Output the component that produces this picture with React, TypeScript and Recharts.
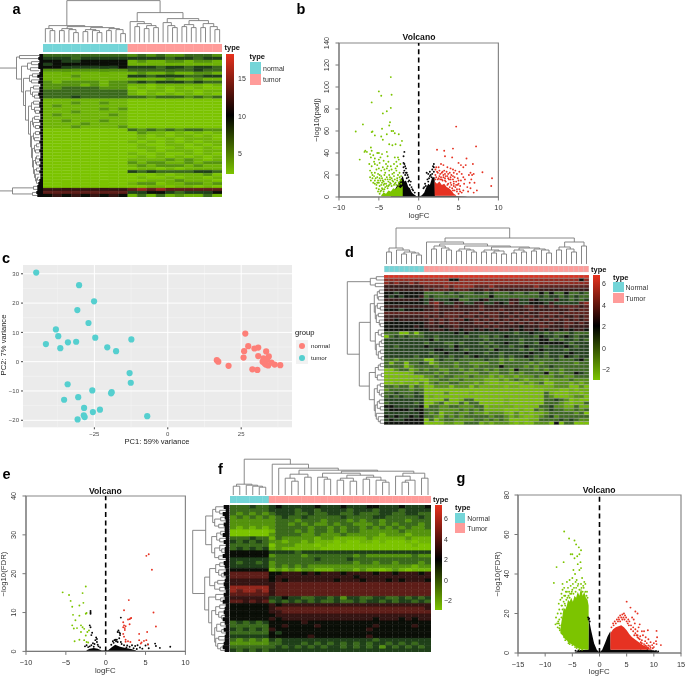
import React from 'react';
import {
  Area, Bar, BarChart, CartesianGrid, Cell, ComposedChart, Line, LineChart, ReferenceArea, ReferenceLine,
  Scatter, ScatterChart, XAxis, YAxis,
} from 'recharts';

const FONT = '"Liberation Sans", Arial, sans-serif';
const GREEN = '#7cc400';
const RED = '#e63222';
const BLACK = '#060606';
const TEAL = '#74d5d8';
const PINK = '#ff9c9a';

// heat levels, 0 = bright green, 5 = black, 9 = red; a/b are the annotation colours
const LEVELS: Record<string, string> = {
  '0': '#7cc400', '1': '#6fb406', '2': '#55930f', '3': '#3b6a1c', '4': '#20401a', '5': '#0b0f08',
  '6': '#351513', '7': '#5e1e19', '8': '#94281d', '9': '#df3120', a: TEAL, b: PINK,
};

// ---- panel a ----
const heatA = [
  '333333333 2323223332', '444344444 4444344344', '554455555 1211221221', '455555555 1111111111',
  '554444445 4443443443', '222222222 3333333433', '111111111 1211211221', '111211111 4434443344',
  '111111111 1111211211', '212222122 3434443433', '222212122 1101111101', '223333222 0101010100',
  '333333333 1011011011', '333333333 1010101010', '333433333 3323332323', '111111111 0000000000',
  '111211211 0000000000', '121111111 0000000000', '111111212 0000000000', '111211111 0000000000',
  '121111121 0000000000', '111111111 0000000000', '112111211 0000000000', '111121111 0000000000',
  '111211112 0000000000', '000000000 3232323322', '000000000 0211010101', '000000000 0101011010',
  '000000000 0100101110', '000000000 1010101011', '000000000 0100110101', '000000000 0110010010',
  '000000000 0010111011', '000000000 1001001010', '000000000 0101010101', '000000000 1111212101',
  '000000000 2122112122', '000000000 1212221211', '000000000 0110101111', '000000000 4343333443',
  '000000000 0001011120', '000000000 0100101101', '000000000 0011121110', '000000000 1220112212',
  '000000000 0011011010', '666666666 7878777777', '777777777 4455434445', '565656565 1313121131',
];
const leafA = [4, 5, 4, 5, 5, 3, 4, 6, 4, 5, 3, 4, 4, 5, 4, 3, 4, 4, 3, 4, 3, 3, 4, 3, 4, 3, 4, 3, 3, 4, 3, 3, 4, 3, 3, 4, 3, 4, 3, 4, 3, 3, 4, 5, 6, 6, 7, 6];
const treeATop = [42,
  [17, [14, 0, [12, 0, 0]], [16, [14, [12, 0, 0], [13, 0, [10, 0, 0]]], [15, [13, [11, 0, 0], [12, 0, [10, 0, 0]]], [14, [12, 0, 0], [13, 0, [9, 0, 0]]]]]],
  [30, [21, 0, [19, [16, 0, 0], [17, [14, 0, 0], [15, 0, 0]]]], [24, [20, 0, [17, 0, [15, 0, 0]]], [22, [18, [16, 0, 0], [15, 0, 0]], [19, [15, 0, 0], [16, 0, [13, 0, 0]]]]]],
];
const treeALeft = [42,
  [23, [20, 0, 0],
    [18, [12, [8, 0, 0], [9, 0, 0]],
      [16, [10, [7, 0, 0], [8, 0, 0]],
        [14, [9, [6, 0, 0], [7, 0, [5, 0, 0]]],
          [11, [8, [6, 0, 0], [5, 0, [4, 0, 0]]],
            [9, [7, [5, 0, 0], [6, 0, [4, 0, 0]]],
              [8, [6, [4, 0, 0], [5, 0, 0]],
                [7, [5, [3, 0, 0], [4, 0, 0]],
                  [6, [4, [3, 0, 0], [3, 0, 0]], [5, [3, 0, 0], [4, 0, [3, [2, 0, 0], 0]]]]]]]]]]]],
  [27, [6, 0, 0], [7, 0, 0]],
];

// ---- panel d ----
const heatD = [
  '99999999 999999999999999999999999999999999', '88888888 888885588888888888888888888888858',
  '87877878 888888888888888888888888888888888', '66666666 777787888877787777777787777777777',
  '66666666 767776777666767666666666666666666', '55455555 333343433344343334334335353353343',
  '54545556 343333343333353333333334344343433', '66666665 464445533445644446644654446443434',
  '55555555 478644664466446547644555464444478', '66666666 667666766667666666667767676777767',
  '55545555 667666666667666766666766666667677', '77777777 777677776776777676767667777677777',
  '66666666 767677767767677667676767676766767', '66566666 676767675676767676767676767676767',
  '55555555 676767766677676767676767676677676', '55555565 666566766666767666656667766676666',
  '55555555 566656656656565665656656566565665', '33300303 444444545444444444344544343334333',
  '03434333 443444443443343454444435443454344', '44444444 453444444444344444434445534344343',
  '44444444 344433434443434454434435555543444', '44344444 544443544444343443445444344454344',
  '44444444 445544543444435444434345444434444', '44444444 434454445444344344444544344445444',
  '44444434 443443443454444343445434344354344', '33233333 003433433333433232333433334333453',
  '31330334 302333233222233233333232333333233', '33330233 332333233323333533332323343333333',
  '00233123 233223323233232332533323233233333', '00000133 332323332223322332323333523233543',
  '00000000 223233222322212122122232223322333', '00000010 022332232222111212321222122223222',
  '00101102 023223322212100110012123002221212', '33233132 002220222021111101100011112220020',
  '23333233 000000000000000000000000111001011', '33433343 000020000100000000000000310001101',
  '34343344 010000000000000000000000320001220', '44444444 000030013300000010000000334320100',
  '34444434 002301131330000010000000333210113', '55444445 033223322233011111000003342211311',
  '45555455 333222232323111100010032343322323', '44444445 323022322322122210201011233333230',
  '54544545 332132323333323321210012342333333', '45445555 030233222233232320000113333434322',
  '55555555 000022113331212221010022205033000',
];
const treeDTop = [36,
  [16, [12, 0, 0], [14, 0, [12, [10, 0, 0], [11, 0, [9, 0, 0]]]]],
  [26,
    [22, 0, [20, [18, [15, 0, 0], [16, 0, [14, 0, 0]]],
      [18, [15, [13, 0, 0], [14, 0, [12, 0, 0]]],
        [17, [14, [12, 0, 0], [13, [11, 0, 0], [10, 0, 0]]], [16, [14, [11, 0, 0], [12, 0, 0]], [15, [13, 0, 0], [14, 0, [11, 0, 0]]]]]]]],
    [22, [17, [14, 0, 0], [15, 0, [12, 0, 0]]], [18, 0, 0]]],
];
const treeDLeft = [37,
  [14, [8, 0, 0], [9, 0, 0]],
  [25,
    [14,
      [10, [7, [5, 0, 0], [6, 0, 0]], [9, [7, 0, [4, 0, 0]], [8, [6, 0, 0], [5, 0, [4, 0, 0]]]]],
      [9, [6, 0, [3, 0, 0]], [8, [5, [3, 0, 0], 0], [6, [4, 0, 0], [3, 0, 0]]]]],
    [15,
      [9, [6, [4, 0, 0], 0], [7, [3, 0, 0], 0]],
      [10, [7, [4, 0, 0], [5, 0, [3, 0, 0]]], [9, [7, [5, 0, 0], [4, 0, 0]], [8, 0, [6, 0, [4, 0, 0]]]]]]],
];

// ---- panel f ----
const heatF = [
  '333433 4544444544454445544454445', '333333 4444344344443444344434444', '323232 3444334334433433344334433',
  '232323 2343343333343333443333343', '222222 2333233323332323323332333', '222222 2332323223233222323233323',
  '212121 2333332332323323232323223', '000000 1333232332323322222232222', '000000 2333322322232222212221222',
  '333433 1322222122111112111112111', '434343 2212212111010011010001011', '333333 0222111010000000000000100',
  '343434 1211111100000000000000000', '555555 4444344444444444444444444', '555555 2333323333333232222222322',
  '444444 3333333433334333333333333', '434434 2333333333333233233233323', '444444 2323232222222222222222122',
  '555555 1212122111222121101210111', '777777 5566656566656666566566656',
  '777777 5666666666666566666666666', '666666 5656666666566656665656665', '666666 6777777777777777777777777',
  '888888 6777777777777777777777777', '878878 6777777777777777777777777', '777777 6777777777777777777777777',
  '666666 4454433443424433443343434', '776767 3434343433433434434344343', '555555 6566666666666666666666666',
  '555555 6777777777777777777777776', '555555 6677777777777777777777777', '555555 5666666666666666666666666',
  '555555 6566666666666666566656566', '343434 5555565555555555555555555', '333333 5565555655555555655555655',
  '434343 6555555555555556555555555', '333333 5455555555555555555555555', '444444 5555556555555556555555555',
  '323232 4344444444444444344444444', '222222 3344434343434343443434344', '333333 3434343434434343424343434',
  '434343 4444444444444444444444444',
];
const leafF = [6, 4, 7, 5, 4, 6, 5, 5, 7, 4, 6, 4, 5, 5, 7, 4, 6, 5, 4, 6, 4, 5, 6, 5, 4, 6, 5, 7, 4, 5, 6, 5, 7, 5, 4, 6, 4, 5, 5, 6, 7, 5];
const treeFTop = [36,
  [11, [9, 0, 0], [10, 0, [9, 0, [8, 0, 0]]]],
  [31, 0, [27, 0, [25,
    [21, [17, 0, [14, 0, 0]], [18, 0, 0]],
    [24,
      [22, [18, 0, [16, 0, 0]], [20, [17, [15, 0, 0], [14, 0, 0]], [18, [16, 0, 0], [15, 0, [13, 0, 0]]]]],
      [22, [19, 0, [15, [13, 0, 0], 0]], [17, 0, 0]]]]]],
];
const treeFLeft = [37,
  [24, [17, [14, 0, [10, 0, 0]], [15, [9, 0, 0], [11, 0, 0]]], [18, [13, [9, 0, 0], [10, 0, 0]], [15, [10, 0, [8, 0, 0]], [11, 0, 0]]]],
  [25,
    [20, [14, [10, 0, 0], [11, 0, [8, 0, 0]]], [15, [12, 0, 0], [10, 0, 0]]],
    [21, [14, 0, [9, 0, 0]], [18, [14, [10, 0, 0], [11, 0, [8, 0, 0]]], [15, [13, [9, 0, 0], [8, 0, 0]], [14, [11, 0, 0], [12, 0, [9, 0, 0]]]]]]],
];

// ---- panel c ----
const pcaTumor = [
  [-44.8, 30.4], [-30.2, 26.1], [-25.1, 20.6], [-30.8, 17.6], [-27, 13.2], [-38.1, 11], [-37.3, 8.7], [-41.5, 6], [-36.6, 4.6], [-34, 6.6],
  [-31.2, 6.8], [-24.7, 8.2], [-12.4, 7.6], [-20.6, 4.9], [-17.6, 3.6], [-13, -3.9], [-12.6, -7.2], [-34.1, -7.7], [-25.7, -9.8], [-19.1, -10.4],
  [-19.3, -10.8], [-30.5, -12.1], [-35.3, -13], [-28.5, -15.8], [-23.1, -16.4], [-25.5, -17.2], [-28.6, -18.3], [-28.3, -18.9], [-30.7, -19.7], [-7, -18.6],
];
const pcaNormal = [
  [26.4, 9.6], [27.4, 5.3], [29.5, 4.5], [30.8, 4.8], [26, 3.6], [33.5, 3.5], [25.8, 1.4], [30.8, 1.9], [34.4, 1.8], [16.7, 0.5],
  [17.2, 0], [20.7, -1.4], [28.8, -2.6], [30.5, -2.8], [32.6, 1.1], [33.8, 0.7], [32.3, 0], [33, -0.6], [33.4, -1], [34.2, -1.3],
  [35.3, -0.3], [36.4, -1], [38.3, -1.2], [32.8, 0.5],
];

// ---- panel b ----
const bGreen = [
  [-3.5, 109], [-5, 96], [-4.7, 92], [-3.4, 93], [-5.9, 86], [-3.5, 81], [-4, 78], [-4.5, 76], [-3.6, 68], [-3.7, 65], [-7, 66], [-7.9, 59.5],
  [-4.6, 62], [-5.9, 59], [-5.8, 59.5], [-3.4, 60], [-3.2, 60], [-4, 57], [-2.5, 57], [-3, 58], [-5.5, 56], [-4.7, 55], [-4.5, 52], [-2.1, 51],
  [-2.9, 48], [-2.3, 47], [-3.7, 48], [-3.3, 47], [-6, 45], [-5.9, 42], [-6.5, 41], [-6.7, 42], [-6.8, 41], [-7.4, 34], [-5.2, 40], [-5, 40],
  [-4.6, 39], [-6.1, 39], [-5.7, 38], [-6, 36], [-5.5, 35], [-4, 41], [-3.9, 37], [-3, 36], [-2.6, 36], [-2.5, 34], [-2.8, 32], [-4.8, 36],
  [-5, 34], [-5.6, 32], [-6.2, 30], [-5.9, 28], [-5.5, 30], [-5.2, 29], [-4.9, 31], [-4.4, 33], [-4.1, 30], [-3.8, 32], [-3.5, 28], [-3.1, 30],
  [-2.7, 28], [-2.3, 30], [-5.9, 22], [-6.1, 18], [-6, 15], [-5.8, 17], [-5.5, 22], [-5.3, 25], [-5, 26], [-4.7, 24], [-4.5, 27], [-4.3, 25],
  [-4, 26], [-3.7, 24], [-3.4, 25], [-3.1, 22], [-2.8, 24], [-2.4, 22], [-5.5, 15], [-5.2, 18], [-4.9, 20], [-4.6, 17], [-4.3, 20], [-4, 18],
  [-3.7, 20], [-3.4, 17], [-3.1, 19], [-2.7, 17], [-2.3, 16], [-5.7, 13], [-5.3, 11], [-5, 13], [-4.7, 11], [-4.4, 14], [-4.1, 12], [-3.8, 14],
  [-3.5, 12], [-3.2, 14], [-2.9, 13], [-2.5, 13], [-2.2, 12], [-5, 7], [-4.6, 8], [-4.8, 5], [-4.4, 5], [-4.2, 9], [-3.9, 8], [-5.3, 8],
  [-5.5, 12], [-4.2, 22], [-3.3, 21], [-2.6, 20], [-2.2, 19], [-3.6, 16], [-4.8, 15], [-4.4, 11], [-5.1, 21], [-2.9, 26], [-3.9, 28], [-6.1, 24],
  [-5.8, 20], [-5.6, 19], [-5.4, 17], [-5.1, 15], [-4.9, 17], [-4.7, 19], [-4.5, 15], [-4.2, 16], [-3.9, 16], [-3.6, 18], [-3.3, 15], [-3, 16], [-2.7, 15], [-2.4, 14],
  [-5.2, 13], [-4.9, 10], [-4.6, 13], [-4.3, 12], [-4, 10], [-3.7, 11], [-3.4, 10], [-3.1, 11], [-2.8, 11], [-2.5, 11], [-2.2, 15], [-4.9, 3], [-5.1, 5], [-4.5, 7], [-4.3, 7],
  [-3.6, 13], [-3, 12], [-2.4, 18], [-3.8, 10], [-4.7, 6],
];
const bRed = [
  [4.7, 64], [7.2, 46], [4.3, 44], [2.3, 43], [3.2, 42], [4.2, 36], [3.3, 37], [6, 35], [5, 31], [5.3, 29], [5.6, 27], [5.9, 29], [6.8, 30], [8, 22.5],
  [9.2, 17], [9.1, 10], [7.3, 6], [6.5, 22], [6.7, 20], [6.3, 20], [6.9, 21], [5.6, 18], [5.8, 16], [6.4, 13], [5, 15], [2.8, 30], [3.1, 29], [2.2, 27],
  [2.5, 27], [3.6, 27], [4, 26], [4.3, 25], [4.6, 24], [3.2, 24], [2.6, 24], [2.3, 23], [2.9, 22], [3.5, 23], [3.9, 22], [4.4, 22], [4.8, 21], [5.1, 23],
  [5.4, 21], [2.1, 20], [2.6, 19], [3.1, 20], [3.6, 19], [4.1, 20], [4.5, 18], [4.9, 17], [5.3, 15], [5.7, 12], [6.1, 9], [6.6, 16], [5.2, 10], [4.7, 14],
  [4.4, 12], [4.9, 11], [4.6, 9], [5.1, 7], [5.6, 6], [6.2, 5], [6.5, 8], [7, 13], [4.3, 16], [3.8, 16], [3.3, 17], [2.9, 16], [2.4, 16], [4, 13], [3.7, 12],
  [5.4, 4], [4.8, 5], [5, 3], [4.5, 6], [6.9, 4], [4.2, 8], [3.4, 14],
  [2.1, 25], [2.4, 22], [2.7, 21], [3, 23], [3.3, 21], [3.7, 21], [4, 18], [4.3, 19], [2.2, 18], [2.5, 17], [2.8, 18], [3.1, 18], [3.4, 19], [3.7, 17], [4, 16], [4.4, 14],
  [4.1, 11], [3.9, 9], [3.6, 11], [3.3, 15], [4.4, 10], [4.7, 11], [5, 12], [4.3, 6], [4.8, 7], [5.2, 5], [2.1, 16], [3, 15], [2.7, 16],
];
const bBlack = [
  [-1.9, 37], [-1.8, 41], [-1.9, 31], [-1.8, 30], [-1.7, 28], [-1.6, 26], [-1.8, 24], [-1.5, 22], [-1.4, 20], [-1.3, 18], [-1.2, 15], [-1, 14], [-1.9, 27], [-1.6, 22],
  [1, 22], [1.2, 21], [1.4, 23], [1.5, 20], [1.7, 25], [1.8, 28], [1.9, 27], [1.3, 17], [1.6, 18], [0.8, 12], [0.6, 8], [-0.7, 6], [-0.5, 4], [1.9, 30],
  [-1.9, 22], [-1.7, 20], [-1.5, 17], [-1.3, 14], [-1.1, 11], [-0.9, 9], [-0.8, 7], [1.1, 16], [1.4, 19], [1.7, 21], [1.9, 23], [0.9, 10], [0.7, 9], [1.2, 14],
];
const bGreenMass = [[-4.7, 0.5, 1.5], [-4.4, 0.5, 4], [-4.1, 0.5, 3], [-3.8, 0.5, 6], [-3.5, 0.5, 5], [-3.2, 0.5, 8], [-2.9, 0.5, 7], [-2.6, 0.5, 10], [-2.3, 0.5, 8], [-2, 0.5, 10]];
const bRedMass = [[2, 1.2, 14], [2.3, 1.2, 12], [2.6, 1.2, 14], [2.9, 1.2, 11], [3.2, 1.2, 12], [3.5, 1.2, 9], [3.8, 1.2, 8], [4.1, 1.2, 6], [4.4, 1.2, 3], [4.7, 1.2, 1.5]];
const bBlackMass = [[-3.5, 0, 0.5], [-2, 0, 19], [-1.8, 0, 14], [-1.6, 0, 15], [-1.3, 0, 9], [-1.1, 0, 8], [-0.9, 0, 4.5], [-0.7, 0, 3], [-0.3, 0, 0.9], [0, 0, 0.2], [0.4, 0, 1.5], [0.7, 0, 4], [0.9, 0, 8], [1.2, 0, 12], [1.4, 0, 11], [1.7, 0, 18], [2, 0, 18], [2.05, 0, 1.2], [4, 0, 1.2], [6, 0, 0.3]];

// ---- panel e ----
const eGreen = [
  [-5.4, 15.2], [-4.6, 14.5], [-4.4, 13], [-4.2, 11.5], [-2.5, 16.7], [-2.9, 15], [-2.8, 12.5], [-3.3, 11.8], [-2.5, 9.7], [-2.4, 9.9], [-4.1, 9.4], [-3.3, 9.2], [-3.8, 8], [-4.2, 6.7],
  [-4, 5.9], [-3.6, 6], [-3.1, 6.7], [-2.9, 6.2], [-2.7, 5.8], [-2.1, 5.4], [-2.3, 5], [-3.1, 5], [-2.5, 4.1], [-3.3, 3], [-2.7, 2.9], [-3.9, 2.6], [-2.4, 2.4], [-2.2, 2.3],
];
const eRed = [
  [5.4, 25], [5.1, 24.6], [5.8, 21], [6, 10], [2.9, 13.2], [2.3, 10.6], [3.2, 8.6], [3.1, 8.5], [3, 8.3], [2.8, 8.2], [2.2, 7.5], [2.3, 6.7], [2.5, 6.5], [2.2, 6.2], [2.4, 6], [2.4, 5.5],
  [3, 7], [6.3, 6.4], [5.2, 5], [4.2, 4.5], [2.2, 4.5], [2.3, 3.8], [2.5, 3], [2.8, 2.6], [3.1, 2.4], [2.5, 2.5], [4.2, 2.9], [4.5, 2.3], [4.8, 2.7], [5.1, 2.9], [4.4, 2], [5.3, 1.8],
];
const eBlack = [
  [-1.9, 10.4], [-1.9, 10], [-1.9, 9.7], [-2, 6.7], [-1.9, 6.2], [-1.7, 4.8], [-1.2, 3.6], [-1.1, 3.2], [-1.3, 2.9], [-1.6, 2.1], [-1.4, 1.9], [-1, 1.7], [-0.9, 1.3], [-1.8, 4.2], [-1.1, 2.4],
  [1.9, 8.7], [1.6, 5.4], [1.7, 4.9], [1.8, 4.6], [1.5, 5], [1.8, 4.2], [1.2, 3], [1.3, 2.6], [1, 2.2], [1.5, 2.4], [1.7, 3.4], [8.1, 1.2], [6.8, 0.9], [6.2, 2], [6.3, 1.4], [5.3, 1.8], [5, 1.5], [5.4, 0.8],
  [4, 1.6], [3.7, 1.4], [4.3, 1], [3.3, 1.6], [3.5, 0.8], [3, 1.2], [2.7, 1.5], [-2.4, 1.6], [-2.2, 1.1], [-2.6, 1.3],
  [-0.7, 1], [-1.5, 1.2], [-1.8, 1.6], [-2, 1.3], [0.9, 2.6], [1.1, 2.9], [0.7, 1.7], [1.4, 3], [2, 1.9], [2.3, 1.6], [2.6, 1], [1.9, 2.4], [4.6, 0.7], [3.9, 0.6],
];
const eBlackMass = [[-2.4, 0, 0.3], [-2, 0, 0.7], [-1.5, 0, 0.9], [-1, 0, 0.7], [-0.5, 0, 0.2], [0.3, 0, 0.3], [0.8, 0, 1.1], [1.2, 0, 1.7], [1.8, 0, 1.2], [2.5, 0, 0.9], [3.2, 0, 0.6], [3.8, 0, 0.2]];

// ---- panel g ----
const gGreen = [
  [-6.5, 61.5], [-5.6, 58], [-4.6, 57], [-4.3, 55], [-3.8, 53.5], [-3.4, 52], [-3.7, 50], [-4.1, 49], [-5, 50], [-5.3, 50], [-4.6, 48], [-3.5, 46], [-4, 45], [-6.6, 46], [-3.4, 43], [-3.7, 42],
  [-7.9, 43.5], [-4.8, 42], [-4.5, 40], [-5, 38], [-5.5, 37], [-6, 36], [-8.4, 35.5], [-6.8, 35], [-6.5, 33], [-4.2, 37], [-7, 30], [-7.2, 27], [-7.5, 25], [-7.7, 20], [-8, 18], [-8.1, 14.5],
  [-7.5, 15], [-7.4, 22], [-7, 24], [-6.9, 28], [-6.2, 31], [-5.8, 33], [-5.3, 34], [-4.9, 35], [-4.4, 36], [-3.9, 35], [-3.4, 35], [-3, 34], [-2.6, 35], [-2.3, 31], [-6.6, 26], [-7.1, 20],
  [-7.4, 17], [-7.7, 13], [-6.9, 24], [-5.6, 31], [-6.4, 25], [-5.1, 31], [-2.8, 36], [-3.2, 38], [-7.3, 11.5], [-6.5, 29],
  [-6.8, 32], [-6.3, 29], [-6, 31], [-5.7, 29], [-5.4, 30], [-5, 32], [-4.7, 33], [-4.3, 33], [-4, 34], [-3.7, 32], [-3.3, 33], [-3.1, 31], [-2.9, 33], [-2.6, 31], [-2.4, 29], [-2.2, 28],
  [-7.3, 14], [-7, 18], [-6.8, 22], [-6.6, 20], [-6.3, 24], [-6.1, 27], [-5.9, 28], [-5.5, 28], [-5.2, 30], [-4.8, 30], [-4.4, 31], [-7.6, 16], [-7.8, 15], [-7.4, 12.5], [-6.9, 10], [-6.5, 8],
  [-6, 7], [-5.5, 4.5], [-5, 4], [-4.5, 3], [-6.3, 6.5], [-5.7, 5], [-7, 12], [-4.2, 2.5], [-3.7, 1.9], [-3.2, 1.7],
];
const gRed = [
  [5, 26], [5.7, 23], [6.6, 21], [7, 20], [4.5, 20], [4.2, 19.5], [3.8, 19], [3.2, 17], [2.8, 16], [2.5, 15], [4.9, 18], [5.5, 16], [6, 18], [6.3, 17], [6.5, 15], [7.4, 14.5], [7.2, 13], [7, 11],
  [7.8, 11], [8.2, 11], [8.9, 11.5], [8, 9], [8.5, 8], [9, 7], [10.5, 11.2], [10.6, 8], [10.4, 6], [10, 5], [9.7, 4], [10.5, 4.5], [11.3, 4], [9.3, 3.5], [8.7, 5], [7.8, 6.5], [7, 9], [6.6, 12],
  [5.8, 14], [5.3, 17], [4.7, 19], [3.5, 18], [6.2, 13], [9.4, 5.5], [8.4, 6], [7.5, 8.5], [9, 2.5], [10, 3], [9.8, 2.4], [8, 3],
  [2.2, 13], [2.6, 14], [3, 15], [3.4, 16], [3.8, 16], [4.2, 17], [4.6, 17], [5, 16], [5.4, 14], [5.8, 12], [6.2, 11], [6.6, 10], [7, 8], [7.4, 7], [7.8, 5], [8.2, 4.5], [8.6, 3.5], [9, 3.8], [9.4, 2.6],
  [4, 18], [4.4, 18], [3.6, 17], [5.2, 15], [6.4, 9], [6.8, 9], [7.2, 7.5], [7.6, 5.5], [8.4, 3.8], [8.8, 2.8],
];
const gBlack = [[-2.1, 18], [-2, 17], [-1.9, 17.5], [-1.8, 16], [8.2, 1], [8.8, 1.3], [9.5, 0.9], [10.4, 1], [10.8, 0.8], [7.6, 1.2], [-4.4, 1.2], [-3.9, 1.3]];
const gGreenMass = [[-7.2, 10, 12], [-7, 9.5, 16], [-6.8, 9, 19], [-6.6, 8, 23], [-6.3, 7, 22], [-6, 6.5, 24], [-5.8, 5.5, 27], [-5.5, 5, 26], [-5.2, 4.5, 28], [-4.9, 4, 26], [-4.6, 3.5, 29], [-4.3, 3, 28], [-4, 2.5, 31], [-3.7, 2.2, 29], [-3.4, 2, 33], [-3.1, 1.8, 29], [-2.8, 1.8, 31], [-2.5, 1.7, 28], [-2.2, 1.7, 27], [-2, 1.7, 24]];
const gRedMass = [[2, 1.7, 10], [2.5, 1.7, 12], [3, 1.7, 13], [3.5, 1.7, 13.5], [4, 1.7, 14], [4.5, 1.7, 13], [5, 1.7, 11.5], [5.5, 1.7, 9.5], [6, 1.7, 8], [6.5, 1.7, 7], [7, 1.7, 6], [8, 1.7, 4], [9, 1.7, 2.5], [9.6, 1.7, 1.9]];
const gBlackMass = [[-4.5, 0, 0.5], [-3.5, 0, 1.5], [-2.05, 0, 1.7], [-2, 0, 18], [-1.5, 0, 11], [-1, 0, 5], [-0.5, 0, 1.6], [0, 0, 0.3], [0.5, 0, 1.6], [1, 0, 5], [1.5, 0, 8.5], [2, 0, 11], [2.05, 0, 1.7], [7, 0, 1.7], [10, 0, 1.4], [10.8, 0, 0.5]];

const pairs = (list: number[][]) => list.map(([x, y]) => ({ x, y }));
const bands = (list: number[][]) => list.map(([x, lo, hi]) => ({ x, band: [lo, hi] }));
const minus = (v: number | string) => String(v).replace('-', '\u2212');

function Text({ x, y, size = 7, bold, color = '#222', rotate, anchor = 'left', children }: any) {
  const tx = anchor === 'center' ? '-50%' : '0';
  return (
    <div style={{
      position: 'absolute', left: x, top: y, fontFamily: FONT, fontSize: size, fontWeight: bold ? 700 : 400, color, lineHeight: 1,
      whiteSpace: 'nowrap', transform: `translate(${tx},-50%)${rotate ? ` rotate(${rotate}deg)` : ''}`, transformOrigin: 'center',
    }}>{children}</div>
  );
}

// each string is one row of the heatmap, each character one cell
function Heatmap({ rows, left, top, width, height, grid }: any) {
  const cells: string[] = rows.map((r: string) => r.replace(/ /g, ''));
  const ncol = Math.max(...cells.map((r) => r.length));
  const data = cells.map((r, i) => {
    const row: any = { row: i };
    for (let c = 0; c < ncol; c++) row[`c${c}`] = 1;
    return row;
  });
  const keys = Array.from({ length: ncol }, (_, c) => c);
  return (
    <div style={{ position: 'absolute', left, top }}>
      <BarChart width={width} height={height} data={data} layout="vertical" margin={{ top: 0, right: 0, bottom: 0, left: 0 }} barCategoryGap={0}>
        <XAxis type="number" hide domain={[0, ncol]} allowDataOverflow />
        <YAxis type="category" dataKey="row" hide />
        {keys.map((c) => (
          <Bar key={c} dataKey={`c${c}`} stackId="s" isAnimationActive={false}>
            {cells.map((r, i) => {
              const fill = LEVELS[r[c] ?? r[r.length - 1]];
              return <Cell key={i} fill={fill} stroke={grid || fill} strokeWidth={grid ? 0.35 : 0.3} />;
            })}
          </Bar>
        ))}
      </BarChart>
    </div>
  );
}

function countLeaves(t: any): number {
  return Array.isArray(t) ? countLeaves(t[1]) + countLeaves(t[2]) : 1;
}

// nested [height, left, right], a leaf is 0
function Dendro({ tree, left, top, width, height, side }: any) {
  const n = countLeaves(tree);
  const points: any[] = [];
  let next = 0;
  const walk = (t: any): { pos: number; h: number } => {
    if (!Array.isArray(t)) return { pos: next++, h: t };
    const a = walk(t[1]);
    const b = walk(t[2]);
    const seg = [[a.pos, a.h], [a.pos, t[0]], [b.pos, t[0]], [b.pos, b.h]];
    seg.forEach(([pos, h]) => points.push(side === 'top' ? { x: pos, y: h } : { x: h, y: pos }));
    points.push(side === 'top' ? { x: b.pos, y: null } : { x: b.h, y: null });
    return { pos: (a.pos + b.pos) / 2, h: t[0] };
  };
  walk(tree);
  const span = [-0.5, n - 0.5];
  const depth = [0, side === 'top' ? height : width];
  return (
    <div style={{ position: 'absolute', left, top }}>
      <LineChart width={width} height={height} data={points} margin={{ top: 0, right: 0, bottom: 0, left: 0 }}>
        <XAxis type="number" dataKey="x" hide domain={side === 'top' ? span : depth} reversed={side !== 'top'} allowDataOverflow />
        <YAxis type="number" hide domain={side === 'top' ? depth : span} reversed={side !== 'top'} allowDataOverflow />
        <Line dataKey="y" stroke="#7c7c7c" strokeWidth={0.9} dot={false} isAnimationActive={false} connectNulls={false} />
      </LineChart>
    </div>
  );
}

function LeafBand({ values, left, top, width, height }: any) {
  const data = values.map((v: number, i: number) => ({ row: i, v }));
  return (
    <div style={{ position: 'absolute', left, top }}>
      <BarChart width={width} height={height} data={data} layout="vertical" margin={{ top: 0, right: 0, bottom: 0, left: 0 }} barCategoryGap={0}>
        <XAxis type="number" hide reversed domain={[0, width]} allowDataOverflow />
        <YAxis type="category" dataKey="row" hide />
        <Bar dataKey="v" fill="#0a0a0a" isAnimationActive={false} />
      </BarChart>
    </div>
  );
}

function ColorBar({ left, top, width, height, zero, ticks, labelX, header, legend }: any) {
  return (
    <>
      <div style={{
        position: 'absolute', left, top, width, height,
        background: `linear-gradient(to bottom, #e8321e 0%, #000 ${zero}%, ${GREEN} 100%)`,
      }} />
      {ticks.map(([t, y]: any) => <Text key={t} x={labelX} y={y} size={7} color="#333">{minus(t)}</Text>)}
      <Text x={header[0]} y={header[1]} size={7.5} bold color="#111">type</Text>
      <Text x={legend.x} y={legend.y} size={7.5} bold color="#111">type</Text>
      {legend.items.map((name: string, i: number) => (
        <React.Fragment key={name}>
          <div style={{ position: 'absolute', left: legend.x, top: legend.keyTop + i * legend.step, width: legend.keyW, height: legend.step, background: i ? PINK : TEAL }} />
          <Text x={legend.x + legend.keyW + 2} y={legend.keyTop + i * legend.step + legend.step / 2} size={7} color="#333">{name}</Text>
        </React.Fragment>
      ))}
    </>
  );
}

const Dot = (color: string, r = 0.95) => (p: any) => <circle cx={p.cx} cy={p.cy} r={r} fill={color} />;

function RTickX({ x, y, payload }: any) {
  return <text x={x} y={y + 8} textAnchor="middle" fontSize={7.4} fill="#333" fontFamily={FONT}>{minus(payload.value)}</text>;
}
function RTickY({ x, y, payload }: any) {
  return <text x={x - 4} y={y} textAnchor="middle" fontSize={7.4} fill="#333" fontFamily={FONT} transform={`rotate(-90 ${x - 4} ${y})`}>{payload.value}</text>;
}

function Volcano({ plot, xDomain, yDomain, xTicks, yTicks, yLabel, green, red, black, greenMass, redMass, blackMass, yLabelX, titleY, xLabelY }: any) {
  const [px, py, pw, ph] = plot;
  return (
    <>
      <div style={{ position: 'absolute', left: px - 30, top: py - 15 }}>
        <ComposedChart width={pw + 35} height={ph + 45} margin={{ top: 15, right: 5, bottom: 0, left: 0 }}>
          <XAxis type="number" dataKey="x" domain={xDomain} ticks={xTicks} interval={0} height={30} allowDataOverflow tick={<RTickX />} stroke="#777" tickSize={3.5} />
          <YAxis type="number" domain={yDomain} ticks={yTicks} interval={0} width={30} allowDataOverflow tick={<RTickY />} stroke="#777" tickSize={3.5} />
          {blackMass && <Area data={bands(blackMass)} dataKey="band" stroke="none" fill={BLACK} fillOpacity={1} dot={false} activeDot={false} isAnimationActive={false} />}
          {greenMass && <Area data={bands(greenMass)} dataKey="band" stroke="none" fill={GREEN} fillOpacity={1} dot={false} activeDot={false} isAnimationActive={false} />}
          {redMass && <Area data={bands(redMass)} dataKey="band" stroke="none" fill={RED} fillOpacity={1} dot={false} activeDot={false} isAnimationActive={false} />}
          <Scatter data={pairs(black)} dataKey="y" shape={Dot(BLACK)} isAnimationActive={false} />
          <Scatter data={pairs(green)} dataKey="y" shape={Dot(GREEN)} isAnimationActive={false} />
          <Scatter data={pairs(red)} dataKey="y" shape={Dot(RED)} isAnimationActive={false} />
          <ReferenceLine x={0} stroke="#000" strokeWidth={1.6} strokeDasharray="5 3.4" />
          <ReferenceArea x1={xDomain[0]} x2={xDomain[1]} y1={yDomain[0]} y2={yDomain[1]} fill="none" stroke="#888" strokeWidth={1.2} strokeOpacity={1} />
        </ComposedChart>
      </div>
      <Text x={px + pw / 2} y={titleY} size={8.6} bold color="#111" anchor="center">Volcano</Text>
      <Text x={px + pw / 2} y={xLabelY} size={7.8} color="#333" anchor="center">logFC</Text>
      <Text x={yLabelX} y={py + ph / 2} size={7.8} color="#333" anchor="center" rotate={-90}>{yLabel}</Text>
    </>
  );
}

function Pca() {
  return (
    <>
      <div style={{ position: 'absolute', left: 0, top: 260 }}>
        <ScatterChart width={297} height={178} margin={{ top: 5, right: 5, bottom: 0, left: 0 }}>
          <CartesianGrid fill="#ebebeb" stroke="#f6f6f6" strokeWidth={0.5}
            verticalValues={[-37.5, -12.5, 12.5, 37.5]} horizontalValues={[-15, -5, 5, 15, 25]} />
          <CartesianGrid fill="none" stroke="#fff" strokeWidth={1} verticalValues={[-25, 0, 25]} horizontalValues={[-20, -10, 0, 10, 20, 30]} />
          <XAxis type="number" dataKey="x" domain={[-49.3, 42.3]} ticks={[-25, 0, 25]} height={10.7} allowDataOverflow axisLine={false}
            tick={{ fontSize: 6, fill: '#4d4d4d', fontFamily: FONT }} tickFormatter={minus} tickSize={2} stroke="#444" />
          <YAxis type="number" dataKey="y" domain={[-22.4, 33]} ticks={[-20, -10, 0, 10, 20, 30]} width={23} allowDataOverflow axisLine={false}
            tick={{ fontSize: 6, fill: '#4d4d4d', fontFamily: FONT }} tickFormatter={minus} tickSize={2} stroke="#444" />
          <Scatter data={pairs(pcaTumor)} fill="#55cfcf" shape={Dot('#55cfcf', 3.1)} isAnimationActive={false} />
          <Scatter data={pairs(pcaNormal)} fill="#fd7f78" shape={Dot('#fd7f78', 3.1)} isAnimationActive={false} />
        </ScatterChart>
      </div>
      <Text x={157} y={441.7} size={7.6} color="#222" anchor="center">PC1: 59% variance</Text>
      <Text x={4} y={345} size={7.6} color="#222" anchor="center" rotate={-90}>PC2: 7% variance</Text>
      <Text x={295} y={332.7} size={7.6} color="#111">group</Text>
      <div style={{ position: 'absolute', left: 296, top: 340, width: 11.5, height: 23.5, background: '#f2f2f2' }} />
      <div style={{ position: 'absolute', left: 299, top: 342.7, width: 6, height: 6, borderRadius: 3, background: '#fd7f78' }} />
      <div style={{ position: 'absolute', left: 299, top: 354.7, width: 6, height: 6, borderRadius: 3, background: '#55cfcf' }} />
      <Text x={311} y={345.7} size={6.2}>normal</Text>
      <Text x={311} y={357.7} size={6.2}>tumor</Text>
    </>
  );
}

export default function App() {
  return (
    <div style={{ position: 'absolute', left: 0, top: 0, width: 685, height: 676, background: '#fff', overflow: 'hidden', filter: 'blur(0.3px)' }}>
      {/* a */}
      <Text x={12.5} y={9} size={14.5} bold color="#000">a</Text>
      <Dendro tree={treeATop} side="top" left={43.3} top={0} width={179} height={42.6} />
      <Heatmap rows={['aaaaaaaaa bbbbbbbbbb']} left={43.3} top={43.7} width={179} height={8} />
      <Dendro tree={treeALeft} side="left" left={0} top={54} width={39.5} height={143} />
      <LeafBand values={leafA} left={33} top={54} width={10.3} height={143} />
      <Heatmap rows={heatA} left={43.3} top={54} width={179} height={143} />
      <ColorBar left={226} top={54} width={8} height={120} zero={51} labelX={238} header={[224.5, 48]}
        ticks={[[15, 78], [10, 115.7], [5, 153]]}
        legend={{ x: 249.5, y: 57, keyTop: 62.3, keyW: 11.5, step: 11.3, items: ['normal', 'tumor'] }} />

      {/* b */}
      <Text x={296.5} y={8.5} size={14.5} bold color="#000">b</Text>
      <Volcano plot={[339.3, 43, 159.4, 154]} xDomain={[-10, 10]} yDomain={[0, 140]} xTicks={[-10, -5, 0, 5, 10]} yTicks={[0, 20, 40, 60, 80, 100, 120, 140]}
        yLabel={'\u2212log10(padj)'} yLabelX={317} titleY={36.5} xLabelY={216}
        green={bGreen} red={bRed} black={bBlack} greenMass={bGreenMass} redMass={bRedMass} blackMass={bBlackMass} />

      {/* c */}
      <Text x={2} y={257.5} size={14.5} bold color="#000">c</Text>
      <Pca />

      {/* d */}
      <Text x={345} y={251.5} size={14.5} bold color="#000">d</Text>
      <Dendro tree={treeDTop} side="top" left={384.3} top={227.3} width={205} height={37} />
      <Heatmap rows={['aaaaaaaa bbbbbbbbbbbbbbbbbbbbbbbbbbbbbbbbb']} left={384.3} top={266.3} width={205} height={6.4} grid="#c9c9c9" />
      <Dendro tree={treeDLeft} side="left" left={346} top={275} width={38.3} height={150} />
      <Heatmap rows={heatD} left={384.3} top={275} width={205} height={150} grid="#8c8c8c" />
      <ColorBar left={593} top={275} width={7} height={105} zero={48.5} labelX={602} header={[591, 270]}
        ticks={[[6, 282.7], [4, 304.7], [2, 326], [0, 347.7], [-2, 369]]}
        legend={{ x: 613, y: 277.7, keyTop: 282.3, keyW: 10.5, step: 10.2, items: ['Normal', 'Tumor'] }} />

      {/* e */}
      <Text x={2.5} y={474} size={14.5} bold color="#000">e</Text>
      <Volcano plot={[25.6, 496.3, 159.4, 155.4]} xDomain={[-10, 10]} yDomain={[0, 40]} xTicks={[-10, -5, 0, 5, 10]} yTicks={[0, 10, 20, 30, 40]}
        yLabel={'\u2212log10(FDR)'} yLabelX={4} titleY={490.5} xLabelY={671}
        green={eGreen} red={eRed} black={eBlack} blackMass={eBlackMass} />

      {/* f */}
      <Text x={218} y={469} size={14.5} bold color="#000">f</Text>
      <Dendro tree={treeFTop} side="top" left={229.7} top={457.8} width={201.3} height={37.2} />
      <Heatmap rows={['aaaaaa bbbbbbbbbbbbbbbbbbbbbbbbb']} left={229.7} top={496} width={201.3} height={7} />
      <Dendro tree={treeFLeft} side="left" left={192} top={505} width={37.7} height={147.3} />
      <LeafBand values={leafF} left={205} top={505} width={24.7} height={147.3} />
      <Heatmap rows={heatF} left={229.7} top={505} width={201.3} height={147.3} />
      <ColorBar left={434.7} top={505} width={7.3} height={105} zero={51.7} labelX={444} header={[433, 500]}
        ticks={[[6, 518.3], [4, 539], [2, 559.3], [0, 579.7], [-2, 600.3]]}
        legend={{ x: 455, y: 508, keyTop: 513, keyW: 10.3, step: 10, items: ['Normal', 'Tumor'] }} />

      {/* g */}
      <Text x={456.5} y={478} size={14.5} bold color="#000">g</Text>
      <Volcano plot={[517.7, 495, 163, 158]} xDomain={[-15, 15]} yDomain={[0, 80]} xTicks={[-15, -10, -5, 0, 5, 10, 15]} yTicks={[0, 20, 40, 60, 80]}
        yLabel={'\u2212log10(FDR)'} yLabelX={497.5} titleY={489.5} xLabelY={672}
        green={gGreen} red={gRed} black={gBlack} greenMass={gGreenMass} redMass={gRedMass} blackMass={gBlackMass} />
    </div>
  );
}
